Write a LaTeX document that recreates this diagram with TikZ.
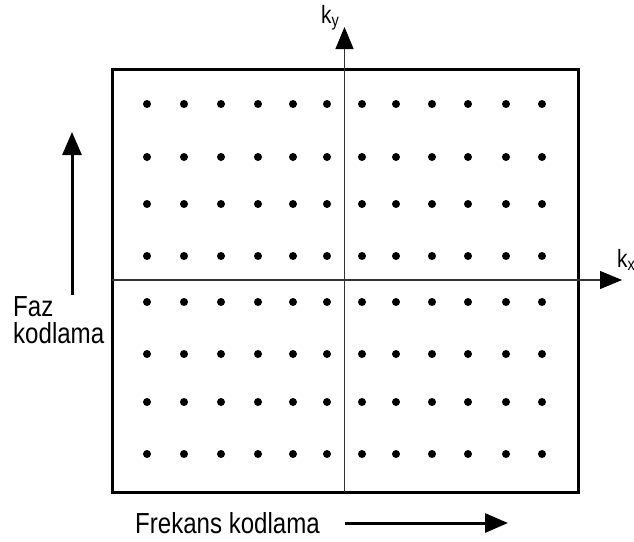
\documentclass[tikz,border=0pt]{standalone}
\usepackage{fontspec}
\setmainfont{Liberation Sans}
\usetikzlibrary{arrows.meta}
% narrow-set label text
\newcommand{\narrowtxt}[1]{\scalebox{0.83}[1]{#1}}
\begin{document}
\begin{tikzpicture}[x=1pt,y=-1pt,
  frame/.style={line width=3pt},
  axisline/.style={line width=1.1pt, draw=black!80,
    -{Triangle[length=22pt,width=18pt,color=black]}},
  dirarrow/.style={line width=3pt, -{Triangle[length=23pt,width=19pt]}},
  dot/.style={circle, fill=black, inner sep=0pt, minimum size=8pt},
  lbl/.style={font=\fontsize{29}{33}\selectfont, inner sep=0pt},
  axlbl/.style={font=\fontsize{25}{29}\selectfont, inner sep=0pt}]
\useasboundingbox (0,0) rectangle (634,541);

% k-space frame
\draw[frame] (112,69.5) rectangle (578.5,492);

% sampling grid
\foreach \x [count=\i] in {147,184,221,258,293,327,362,396,432,468,506,542}
  \foreach \y [count=\j] in {104,157,204,256,302,354,402,454}
    \node[dot] (d-\i-\j) at (\x,\y) {};

% axes
\coordinate (ybot) at (344.5,492);
\coordinate (ytop) at (344.5,27);
\coordinate (xleft) at (112,280);
\coordinate (xright) at (622,280);
\draw[axisline] (ybot) -- (ytop);
\draw[axisline] (xleft) -- (xright);
\node[axlbl, anchor=base west] (ky) at (321,23) {\narrowtxt{k\textsubscript{y}}};
\node[axlbl, anchor=base west] (kx) at (617,267) {\narrowtxt{k\textsubscript{x}}};

% encoding directions
\coordinate (fazB) at (72,295);
\coordinate (fazT) at (72,132);
\draw[dirarrow] (fazB) -- (fazT);
\node[lbl, anchor=base west] (faz) at (13,316) {\narrowtxt{Faz}};
\node[lbl, anchor=base west] (kod) at (13,343) {\narrowtxt{kodlama}};

\node[lbl, anchor=base west] (frk) at (135,533) {\narrowtxt{Frekans kodlama}};
\coordinate (frkL) at (345,523);
\coordinate (frkR) at (508,523);
\draw[dirarrow] (frkL) -- (frkR);
\end{tikzpicture}
\end{document}
